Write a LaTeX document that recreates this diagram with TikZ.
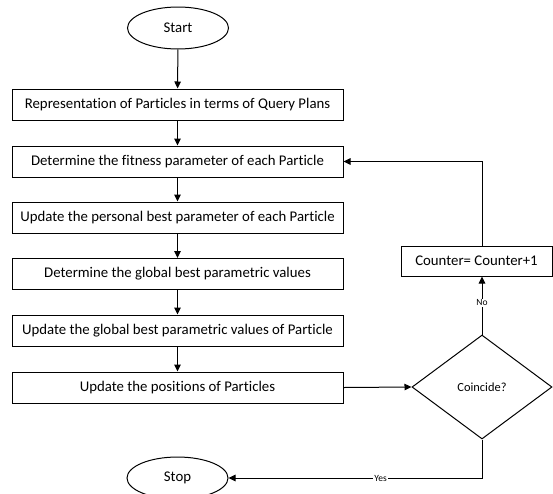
\documentclass[tikz,border=0pt]{standalone}
\usepackage{fontspec}
\setmainfont{Carlito}[Ligatures=NoCommon]
\usetikzlibrary{shapes.geometric,arrows.meta}
\begin{document}
\begin{tikzpicture}[x=1pt,y=-1pt,
  line width=1pt,
  textfont/.style={font=\fontsize{14.8}{17}\selectfont},
  stepbox/.style={draw, rectangle, minimum width=331pt, minimum height=31pt, inner sep=0pt, textfont},
  terminal/.style={draw, ellipse, minimum width=101pt, minimum height=42pt, inner sep=0pt, textfont},
  decision/.style={draw, diamond, minimum width=140pt, minimum height=104pt, inner sep=0pt, font=\fontsize{12.4}{14}\selectfont},
  flow/.style={-{Triangle[length=7pt,width=6.5pt]}},
  tag/.style={font=\fontsize{9.5}{11}\selectfont, fill=white, inner sep=1pt}]
\useasboundingbox (0,0) rectangle (553,493);
% terminals
\node[terminal] (start) at (178,28) {Start};
\node[terminal] (stop) at (177.5,478) {Stop};
% process steps
\node[stepbox] (s1) at (177.5,104.5) {Representation of Particles in terms of Query Plans};
\node[stepbox] (s2) at (177.5,161.5) {Determine the fitness parameter of each Particle};
\node[stepbox] (s3) at (177.5,217.5) {Update the personal best parameter of each Particle};
\node[stepbox] (s4) at (177.5,274) {Determine the global best parametric values};
\node[stepbox] (s5) at (177.5,330.5) {Update the global best parametric values of Particle};
\node[stepbox] (s6) at (177.5,387.5) {Update the positions of Particles};
% decision and counter update
\node[decision] (dec) at (482,387) {Coincide?};
\node[draw, rectangle, minimum width=151pt, minimum height=30pt, inner sep=0pt, textfont] (cnt) at (476.5,261) {Counter= Counter+1};
% connectors
\draw[flow] (start) -- (s1);
\draw[flow] (s1) -- (s2);
\draw[flow] (s2) -- (s3);
\draw[flow] (s3) -- (s4);
\draw[flow] (s4) -- (s5);
\draw[flow] (s5) -- (s6);
\draw[flow] (s6.east) -- (dec.west);
\draw[flow] (dec.north) -- node[tag, pos=0.55] {No} (dec.north |- cnt.south);
\draw[flow] (dec.north |- cnt.north) |- (s2.east);
\draw[flow] (dec.south) |- node[tag, pos=0.7] {Yes} (stop.east);
\end{tikzpicture}
\end{document}
